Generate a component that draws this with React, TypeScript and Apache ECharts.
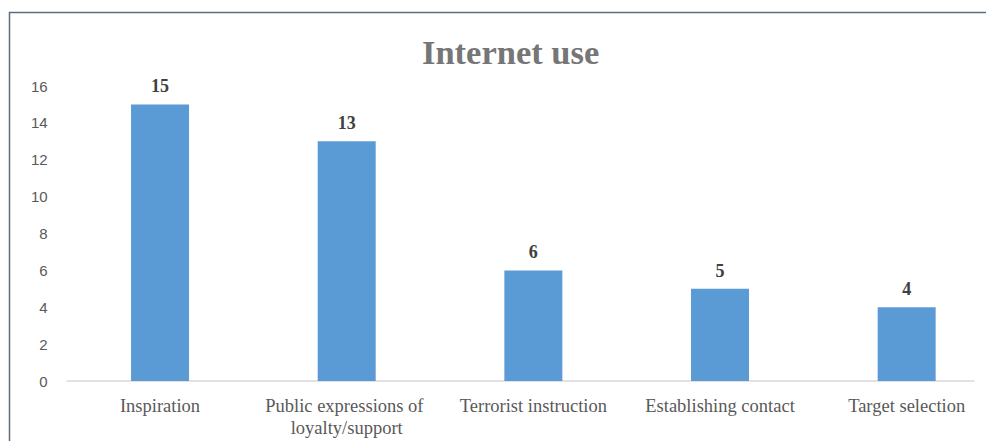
import React, { useEffect, useRef } from "react";
import * as echarts from "echarts";

// Chart data
const categories: string[] = [
  "Inspiration",
  "Public expressions of loyalty/support",
  "Terrorist instruction",
  "Establishing contact",
  "Target selection",
];
const counts: number[] = [15, 13, 6, 5, 4];
const yTicks = { min: 0, max: 16, interval: 2 };
const chartTitle = "Internet use";

const SERIF = "'Liberation Serif', 'Times New Roman', serif";
const SANS = "'Liberation Sans', Arial, sans-serif";

// The canvas is wider than the visible frame so the last category band
// can run past the right edge.
const CANVAS_W = 1040;
const VIEW_W = 986;
const VIEW_H = 441;

export default function App() {
  const ref = useRef<HTMLDivElement>(null);

  useEffect(() => {
    if (!ref.current) return;
    const chart = echarts.init(ref.current, undefined, { renderer: "svg" });
    chart.setOption({
      animation: false,
      backgroundColor: "#ffffff",
      title: {
        text: chartTitle,
        left: 417,
        top: 29,
        textStyle: {
          fontFamily: SERIF,
          fontWeight: "bold",
          fontSize: 34.5,
          color: "#767676",
        },
      },
      graphic: [
        {
          type: "polyline",
          shape: {
            points: [
              [9.5, VIEW_H],
              [9.5, 12.5],
              [VIEW_W, 12.5],
            ],
          },
          style: { stroke: "#5e6e7e", lineWidth: 1.5, fill: "none" },
          silent: true,
        },
      ],
      grid: [
        { left: 66.7, top: 86, width: 933.3, height: 295 },
        { left: 67, top: 86, width: 907, height: 295 },
      ],
      xAxis: [
        {
          type: "category",
          gridIndex: 0,
          data: categories,
          axisLine: { show: false },
          axisTick: { show: false },
          axisLabel: {
            interval: 0,
            margin: 14,
            width: 172,
            overflow: "break",
            lineHeight: 22,
            fontFamily: SERIF,
            fontSize: 18.5,
            color: "#595959",
          },
        },
        {
          // baseline of the plot area
          type: "value",
          gridIndex: 1,
          min: 0,
          max: 1,
          axisLine: { show: true, lineStyle: { color: "#d9d9d9", width: 1.5 } },
          axisTick: { show: false },
          axisLabel: { show: false },
          splitLine: { show: false },
        },
      ],
      yAxis: [
        {
          type: "value",
          gridIndex: 0,
          min: yTicks.min,
          max: yTicks.max,
          interval: yTicks.interval,
          axisLine: { show: false },
          axisTick: { show: false },
          splitLine: { show: false },
          axisLabel: {
            margin: 19,
            fontFamily: SANS,
            fontSize: 15,
            color: "#595959",
          },
        },
        {
          type: "value",
          gridIndex: 1,
          min: 0,
          max: 1,
          show: false,
        },
      ],
      series: [
        {
          type: "bar",
          xAxisIndex: 0,
          yAxisIndex: 0,
          data: counts,
          barWidth: 58,
          itemStyle: { color: "#5b9bd5" },
          label: {
            show: true,
            position: "top",
            distance: 9,
            fontFamily: SERIF,
            fontWeight: "bold",
            fontSize: 18,
            color: "#404040",
          },
        },
      ],
    });
    return () => chart.dispose();
  }, []);

  return (
    <div
      style={{
        position: "absolute",
        left: 0,
        top: 0,
        width: VIEW_W,
        height: VIEW_H,
        overflow: "hidden",
        background: "#ffffff",
      }}
    >
      <div ref={ref} style={{ width: CANVAS_W, height: VIEW_H }} />
    </div>
  );
}
